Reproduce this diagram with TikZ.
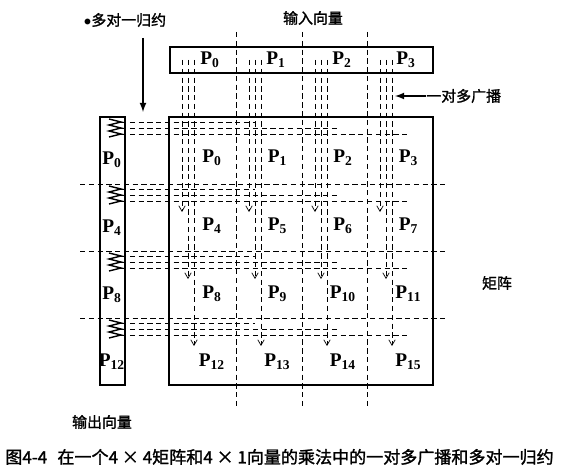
\documentclass[tikz,border=0pt]{standalone}
\usepackage{fontspec}
\setmainfont{Liberation Serif}
\newfontfamily\cjk[AutoFakeBold=1.5]{Noto Sans CJK SC}
\usetikzlibrary{arrows}
\tikzstyle{box} = [draw=black, line width=1.1pt]
\tikzstyle{grid} = [draw=black, thin, dash pattern=on 3pt off 2pt]
\tikzstyle{bcast} = [draw=black, thin, dash pattern=on 3pt off 2pt, ->, >=angle 60]
\tikzstyle{spring} = [draw=black, line width=0.8pt]
\tikzstyle{arrow} = [thick, ->, >=latex]
\tikzstyle{plabel} = [inner sep=0pt, font=\fontsize{11}{13}\selectfont]
\tikzstyle{cn} = [inner sep=0pt, font=\cjk\bfseries\fontsize{8.5}{10}\selectfont]
\newcommand{\pe}[1]{\textbf{P}$_{\mathbf{#1}}$}

\begin{document}
\begin{tikzpicture}[x=0.02cm, y=-0.02cm]
	\useasboundingbox (0,0) rectangle (575,473);
	% vectors and matrix
	\draw[box] (170,47) rectangle (433,73);
	\draw[box] (169,117) rectangle (433,385);
	\draw[box] (100,117) rectangle (125,385);
	% dashed grid
	\foreach \x in {236,302,367} \draw[grid] (\x,32) -- (\x,407);
	\foreach \y in {184,251,318} \draw[grid] (80,\y) -- (447,\y);
	% one-to-all broadcast down each column
	\foreach \c in {169,236,302,367} {
		\foreach \k/\yend in {1/212, 2/279, 3/346}
			\draw[bcast] (\c+7+6*\k,60) -- (\c+7+6*\k,\yend);
	}
	% all-to-one reduction along each row
	\foreach \r in {117,184,251,318} {
		\draw[spring] (109,\r+2) -- (121,\r+5) -- (109,\r+8) -- (121,\r+11) -- (109,\r+14) -- (121,\r+17) -- (109,\r+20);
		\foreach \k/\xend in {1/255, 2/340, 3/407}
			\draw[grid] (121,\r-1+6*\k) -- (\xend,\r-1+6*\k);
	}
	% processor labels
	\foreach \c/\x in {0/210, 1/276, 2/342, 3/406}
		\node (in\c) [plabel] at (\x,60) {\pe{\c}};
	\foreach \i in {0,...,15} {
		\pgfmathtruncatemacro{\col}{mod(\i,4)}
		\pgfmathtruncatemacro{\row}{int(\i/4)}
		\node (m\i) [plabel] at (212+65.5*\col, 158+68*\row) {\pe{\i}};
	}
	\foreach \i/\y in {0/160, 4/228, 8/295, 12/362}
		\node (out\i) [plabel] at (112,\y) {\pe{\i}};
	% texts
	\node (reduce) [cn] at (125,20) {$\bullet$多对一归约};
	\node (invec) [cn] at (313,18) {输入向量};
	\node (bclabel) [cn, anchor=west] at (426,96) {一对多广播};
	\node (matlabel) [cn] at (497,283) {矩阵};
	\node (outvec) [cn] at (102,422) {输出向量};
	\node (caption) [inner sep=0pt, anchor=west, font=\cjk\bfseries\fontsize{9.7}{12}\selectfont] at (5,457) {图4-4\hspace{0.6em}在一个4 × 4矩阵和4 × 1向量的乘法中的一对多广播和多对一归约};
	\coordinate (redtop) at (143,38);
	\coordinate (redend) at (143,112);
	\coordinate (bcend) at (395,96);
	\draw[arrow] (redtop) -- (redend);
	\draw[arrow] (bclabel.west) -- (bcend);
\end{tikzpicture}
\end{document}
